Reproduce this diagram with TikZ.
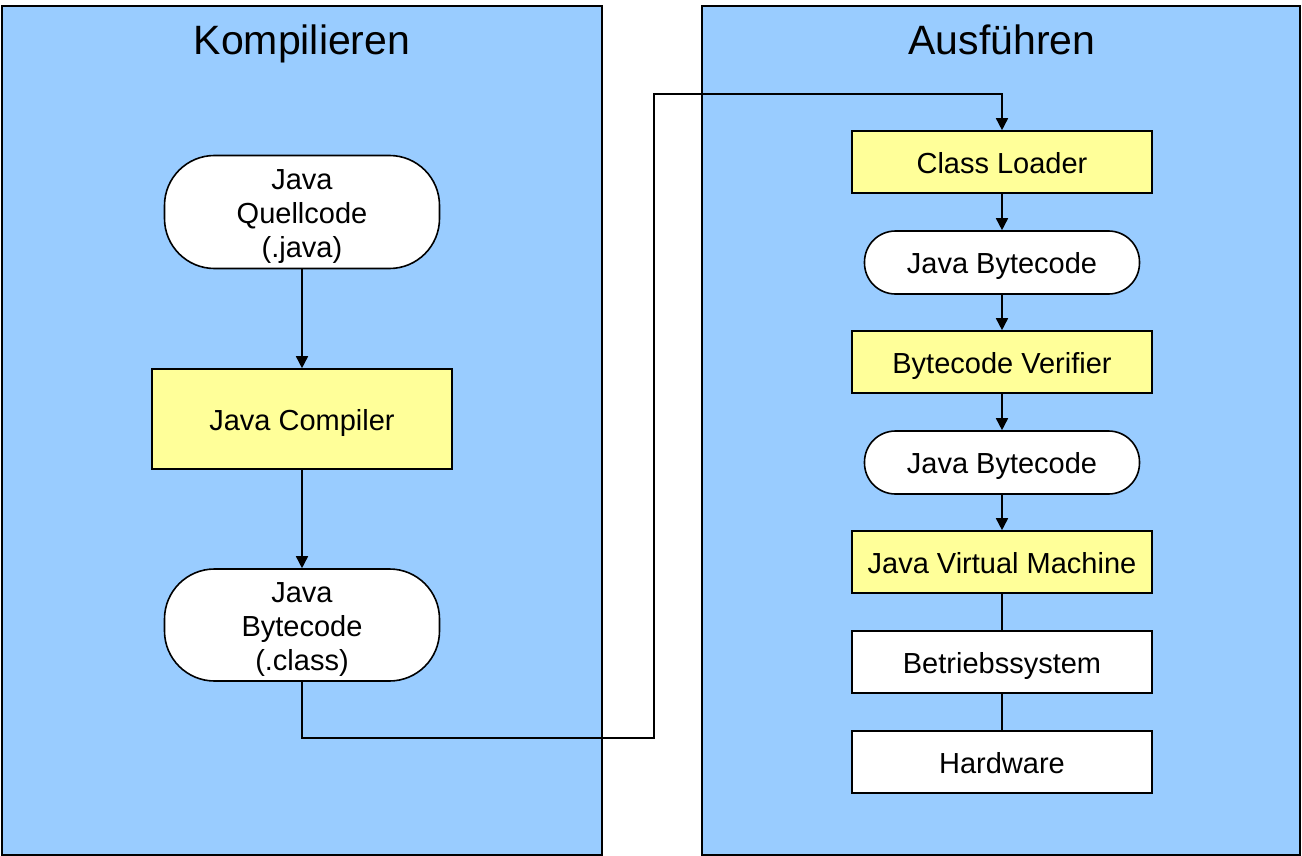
\documentclass[tikz,border=0pt]{standalone}
\usepackage{fontspec}
\setmainfont{Liberation Sans}
\usetikzlibrary{arrows.meta}
\definecolor{panelblue}{HTML}{99CCFF}
\definecolor{boxyellow}{HTML}{FFFF99}
\newcommand{\tstrut}{\rule[-6pt]{0pt}{35pt}}
\tikzset{
  panel/.style={draw=black, fill=panelblue, line width=1.6pt},
  title/.style={font=\fontsize{41}{48}\selectfont, anchor=base},
  yelbox/.style={draw=black, fill=boxyellow, line width=1.6pt, minimum width=300pt, inner sep=0pt, font=\fontsize{29}{34}\selectfont, align=center},
  whtbox/.style={yelbox, fill=white},
  pill/.style={draw=black, fill=white, line width=1.6pt, inner sep=0pt, font=\fontsize{29}{34}\selectfont, align=center},
  conn/.style={draw=black, line width=1.6pt},
  arr/.style={conn, -{Triangle[length=12pt,width=12pt]}}
}
\begin{document}
\begin{tikzpicture}[x=1pt,y=-1pt]
\useasboundingbox (0,0) rectangle (1302,856);
\draw[panel] (2,6) rectangle (602,855);
\draw[panel] (702,6) rectangle (1300,855);
\node[title] (t1) at (302,55) {Kompilieren};
\node[title] (t2) at (1002,55) {Ausführen};
% left nodes
\node[pill, minimum width=275pt, minimum height=113pt, rounded corners=50pt] (src) at (302,212) {\rule{0pt}{29pt}Java\\Quellcode\\(.java)};
\node[yelbox, minimum height=100pt] (comp) at (302,419) {\tstrut Java Compiler};
\node[pill, minimum width=275pt, minimum height=112pt, rounded corners=50pt] (bc) at (302,625) {\rule{0pt}{29pt}Java\\Bytecode\\(.class)};
% right nodes
\node[yelbox, minimum height=62pt] (cl) at (1002,162) {\tstrut Class Loader};
\node[pill, minimum width=275pt, minimum height=63pt, rounded corners=31pt] (jb1) at (1002,262.5) {\tstrut Java Bytecode};
\node[yelbox, minimum height=62pt] (bv) at (1002,362) {\tstrut Bytecode Verifier};
\node[pill, minimum width=275pt, minimum height=63pt, rounded corners=31pt] (jb2) at (1002,462.5) {\tstrut Java Bytecode};
\node[yelbox, minimum height=62pt] (jvm) at (1002,562) {\tstrut Java Virtual Machine};
\node[whtbox, minimum height=62pt] (os) at (1002,662) {\tstrut Betriebssystem};
\node[whtbox, minimum height=62pt] (hw) at (1002,762) {\tstrut Hardware};
% connectors
\coordinate (c1) at (654,738);
\coordinate (c2) at (654,94);
\draw[arr] (src) -- (comp);
\draw[arr] (comp) -- (bc);
\draw[arr] (bc.south) |- (c1) -- (c2) -| (cl.north);
\draw[arr] (cl) -- (jb1);
\draw[arr] (jb1) -- (bv);
\draw[arr] (bv) -- (jb2);
\draw[arr] (jb2) -- (jvm);
\draw[conn] (jvm) -- (os);
\draw[conn] (os) -- (hw);
\end{tikzpicture}
\end{document}
